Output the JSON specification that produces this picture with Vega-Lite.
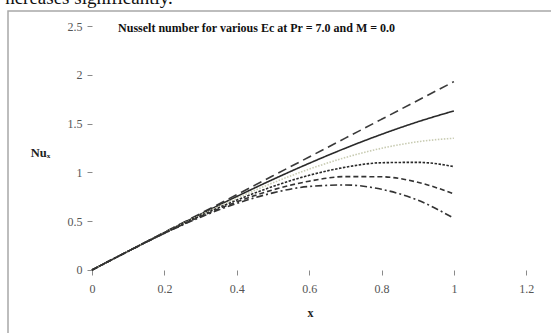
{
  "$schema": "https://vega.github.io/schema/vega-lite/v6.json",
  "width": 560,
  "height": 340,
  "autosize": "none",
  "padding": {"left": 8, "top": 11, "right": 0, "bottom": 0},
  "background": "white",
  "config": {
    "view": {"stroke": "#a8a8a8", "strokeWidth": 1.5},
    "font": "Liberation Serif"
  },
  "datasets": {
    "curves": [
      {"x": 0, "nu": 0, "s": "c1"}, {"x": 0.1, "nu": 0.193, "s": "c1"}, {"x": 0.2, "nu": 0.386, "s": "c1"}, {"x": 0.3, "nu": 0.579, "s": "c1"}, {"x": 0.4, "nu": 0.772, "s": "c1"}, {"x": 0.5, "nu": 0.965, "s": "c1"}, {"x": 0.6, "nu": 1.158, "s": "c1"}, {"x": 0.7, "nu": 1.351, "s": "c1"}, {"x": 0.8, "nu": 1.544, "s": "c1"}, {"x": 0.9, "nu": 1.737, "s": "c1"}, {"x": 1.0, "nu": 1.93, "s": "c1"},
      {"x": 0, "nu": 0, "s": "c2"}, {"x": 0.1, "nu": 0.193, "s": "c2"}, {"x": 0.2, "nu": 0.384, "s": "c2"}, {"x": 0.3, "nu": 0.571, "s": "c2"}, {"x": 0.4, "nu": 0.753, "s": "c2"}, {"x": 0.5, "nu": 0.928, "s": "c2"}, {"x": 0.6, "nu": 1.093, "s": "c2"}, {"x": 0.7, "nu": 1.248, "s": "c2"}, {"x": 0.8, "nu": 1.39, "s": "c2"}, {"x": 0.9, "nu": 1.518, "s": "c2"}, {"x": 1.0, "nu": 1.63, "s": "c2"},
      {"x": 0, "nu": 0, "s": "c3"}, {"x": 0.1, "nu": 0.192, "s": "c3"}, {"x": 0.2, "nu": 0.381, "s": "c3"}, {"x": 0.3, "nu": 0.563, "s": "c3"}, {"x": 0.4, "nu": 0.735, "s": "c3"}, {"x": 0.5, "nu": 0.893, "s": "c3"}, {"x": 0.6, "nu": 1.033, "s": "c3"}, {"x": 0.7, "nu": 1.152, "s": "c3"}, {"x": 0.8, "nu": 1.247, "s": "c3"}, {"x": 0.9, "nu": 1.314, "s": "c3"}, {"x": 1.0, "nu": 1.35, "s": "c3"},
      {"x": 0, "nu": 0, "s": "c4"}, {"x": 0.1, "nu": 0.192, "s": "c4"}, {"x": 0.2, "nu": 0.379, "s": "c4"}, {"x": 0.3, "nu": 0.556, "s": "c4"}, {"x": 0.4, "nu": 0.716, "s": "c4"}, {"x": 0.5, "nu": 0.856, "s": "c4"}, {"x": 0.6, "nu": 0.97, "s": "c4"}, {"x": 0.7, "nu": 1.053, "s": "c4"}, {"x": 0.8, "nu": 1.099, "s": "c4"}, {"x": 0.9, "nu": 1.103, "s": "c4"}, {"x": 1.0, "nu": 1.06, "s": "c4"},
      {"x": 0, "nu": 0, "s": "c5"}, {"x": 0.1, "nu": 0.192, "s": "c5"}, {"x": 0.2, "nu": 0.377, "s": "c5"}, {"x": 0.3, "nu": 0.548, "s": "c5"}, {"x": 0.4, "nu": 0.698, "s": "c5"}, {"x": 0.5, "nu": 0.821, "s": "c5"}, {"x": 0.6, "nu": 0.91, "s": "c5"}, {"x": 0.7, "nu": 0.957, "s": "c5"}, {"x": 0.8, "nu": 0.955, "s": "c5"}, {"x": 0.9, "nu": 0.899, "s": "c5"}, {"x": 1.0, "nu": 0.78, "s": "c5"},
      {"x": 0, "nu": 0, "s": "c6"}, {"x": 0.1, "nu": 0.192, "s": "c6"}, {"x": 0.2, "nu": 0.375, "s": "c6"}, {"x": 0.3, "nu": 0.541, "s": "c6"}, {"x": 0.4, "nu": 0.682, "s": "c6"}, {"x": 0.5, "nu": 0.79, "s": "c6"}, {"x": 0.6, "nu": 0.856, "s": "c6"}, {"x": 0.7, "nu": 0.871, "s": "c6"}, {"x": 0.8, "nu": 0.827, "s": "c6"}, {"x": 0.9, "nu": 0.716, "s": "c6"}, {"x": 1.0, "nu": 0.53, "s": "c6"}
    ],
    "labels": [
      {"lx": 0.072, "ly": 2.44, "label": "Nusselt number for various Ec at Pr = 7.0 and M = 0.0", "kind": "title"},
      {"lx": -0.24, "ly": 2.725, "label": "ncreases significantly.", "kind": "page"}
    ]
  },
  "layer": [
    {
      "mark": {"type": "rule", "color": "#8a8a8a", "strokeWidth": 1},
      "encoding": {
        "x": {"datum": 0, "type": "quantitative"},
        "x2": {"datum": 1.2},
        "y": {"datum": 0, "type": "quantitative"}
      }
    },
    {
      "mark": {"type": "rule", "color": "#8a8a8a", "strokeWidth": 1},
      "encoding": {
        "x": {"datum": 0, "type": "quantitative"},
        "y": {"datum": 0, "type": "quantitative"},
        "y2": {"datum": 2.5}
      }
    },
    {
      "data": {"name": "curves"},
      "mark": {"type": "line", "interpolate": "monotone", "strokeWidth": 1.6},
      "encoding": {
        "x": {
          "field": "x", "type": "quantitative",
          "scale": {"domain": [-0.2321, 1.3153], "nice": false, "zero": false},
          "axis": {
            "values": [0, 0.2, 0.4, 0.6, 0.8, 1, 1.2],
            "format": "~g",
            "offset": -81,
            "domain": false,
            "grid": false,
            "tickColor": "#8a8a8a",
            "tickSize": 5,
            "labelPadding": 8,
            "labelFont": "Liberation Serif",
            "labelFontSize": 12,
            "labelColor": "#555555",
            "title": "x",
            "titleFont": "Liberation Serif",
            "titleFontSize": 12,
            "titleFontWeight": "bold",
            "titleColor": "#222222",
            "titleX": 302,
            "titleY": 42,
            "titleBaseline": "middle"
          }
        },
        "y": {
          "field": "nu", "type": "quantitative",
          "scale": {"domain": [-0.83, 2.6537], "nice": false, "zero": false},
          "axis": {
            "values": [0, 0.5, 1, 1.5, 2, 2.5],
            "format": "~g",
            "offset": -84,
            "domain": false,
            "grid": false,
            "tickColor": "#8a8a8a",
            "tickSize": 5,
            "labelPadding": 5,
            "labelFont": "Liberation Serif",
            "labelFontSize": 12,
            "labelColor": "#555555",
            "title": "Nuₓ",
            "titleFont": "Liberation Serif",
            "titleFontSize": 12.5,
            "titleFontWeight": "bold",
            "titleColor": "#222222",
            "titleAngle": 0,
            "titleX": -52,
            "titleY": 141,
            "titleAlign": "center",
            "titleBaseline": "middle"
          }
        },
        "color": {
          "field": "s", "type": "nominal", "legend": null,
          "scale": {"domain": ["c1", "c2", "c3", "c4", "c5", "c6"], "range": ["#3a3a3a", "#2a2a2a", "#c8cbb2", "#2a2a2a", "#333333", "#333333"]}
        },
        "strokeDash": {
          "field": "s", "type": "nominal", "legend": null,
          "scale": {"domain": ["c1", "c2", "c3", "c4", "c5", "c6"], "range": [[9, 5], [1, 0], [1.5, 1.5], [2.5, 1.5], [5, 3], [7, 3, 2, 3]]}
        }
      }
    },
    {
      "data": {"name": "labels"},
      "transform": [{"filter": "datum.kind === 'title'"}],
      "mark": {"type": "text", "font": "Liberation Serif", "fontSize": 12, "fontWeight": "bold", "align": "left", "baseline": "alphabetic", "color": "#111111"},
      "encoding": {
        "x": {"field": "lx", "type": "quantitative"},
        "y": {"field": "ly", "type": "quantitative"},
        "text": {"field": "label"}
      }
    },
    {
      "data": {"name": "labels"},
      "transform": [{"filter": "datum.kind === 'page'"}],
      "mark": {"type": "text", "font": "Liberation Serif", "fontSize": 19, "align": "left", "baseline": "alphabetic", "color": "#111111"},
      "encoding": {
        "x": {"field": "lx", "type": "quantitative"},
        "y": {"field": "ly", "type": "quantitative"},
        "text": {"field": "label"}
      }
    }
  ]
}
